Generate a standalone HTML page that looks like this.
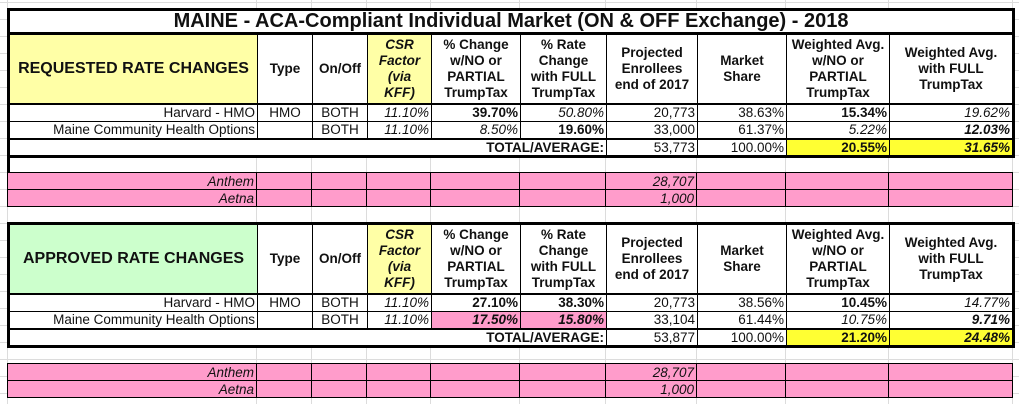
<!DOCTYPE html>
<html><head><meta charset="utf-8">
<style>
html,body{margin:0;padding:0;}
body{width:1019px;height:404px;position:relative;overflow:hidden;background:#fff;
background-image:linear-gradient(#dcdcdc 1px,transparent 1px);background-size:100% 17px;background-position:0 2px;
font-family:"Liberation Sans",Arial,sans-serif;color:#111;}
.vl{position:absolute;top:0;height:404px;width:1px;background:#dcdcdc;}
table{position:absolute;left:7px;border-collapse:collapse;table-layout:fixed;background:#fff;}
td{border:1px solid #000;padding:0 2px;font-size:13.5px;white-space:nowrap;overflow:hidden;text-align:right;line-height:15px;}
.h td{text-align:center;font-weight:bold;font-size:13.5px;line-height:16px;white-space:nowrap;padding:0;}
.t td{font-size:20px;font-weight:bold;text-align:center;border:3px solid #000;}
.b{font-weight:bold}.i{font-style:italic}.c{text-align:center}
.y{background:#ffffa6}.g{background:#ccffcc}.Y{background:#ffff33}.p{background:#ff9ccb}
.big{font-size:16px!important;}
.thickB td{border-bottom:3px solid #000;}
</style></head><body>
<div class="vl" style="left:256px"></div><div class="vl" style="left:311px"></div><div class="vl" style="left:366px"></div><div class="vl" style="left:430px"></div><div class="vl" style="left:519px"></div><div class="vl" style="left:605px"></div><div class="vl" style="left:696px"></div><div class="vl" style="left:785px"></div><div class="vl" style="left:888px"></div><div class="vl" style="left:1012px"></div><div class="vl" style="left:7px"></div>

<table style="top:8px;width:1005px;border:3px solid #000;">
<colgroup><col style="width:249px"><col style="width:55px"><col style="width:55px"><col style="width:64px"><col style="width:89px"><col style="width:86px"><col style="width:91px"><col style="width:89px"><col style="width:103px"><col style="width:124px"></colgroup>
<tr class="t" style="height:24px"><td colspan="10">MAINE - ACA-Compliant Individual Market (ON &amp; OFF Exchange) - 2018</td></tr>
<tr class="h" style="height:70px;border-bottom:2px solid #000"><td class="y big">REQUESTED RATE CHANGES</td><td>Type</td><td>On/Off</td><td class="y i">CSR<br>Factor<br>(via<br>KFF)</td><td>% Change<br>w/NO or<br>PARTIAL<br>TrumpTax</td><td>% Rate<br>Change<br>with FULL<br>TrumpTax</td><td>Projected<br>Enrollees<br>end of 2017</td><td>Market<br>Share</td><td>Weighted Avg.<br>w/NO or<br>PARTIAL<br>TrumpTax</td><td>Weighted Avg.<br>with FULL<br>TrumpTax</td></tr>
<tr style="height:18px"><td>Harvard - HMO</td><td class="c">HMO</td><td class="c">BOTH</td><td class="i">11.10%</td><td class="b">39.70%</td><td class="i">50.80%</td><td>20,773</td><td>38.63%</td><td class="b">15.34%</td><td class="i">19.62%</td></tr>
<tr style="height:17px"><td>Maine Community Health Options</td><td></td><td class="c">BOTH</td><td class="i">11.10%</td><td class="i">8.50%</td><td class="b">19.60%</td><td>33,000</td><td>61.37%</td><td class="i">5.22%</td><td class="b i">12.03%</td></tr>
<tr class="thickB" style="height:17px;border-top:2px solid #000"><td colspan="6" class="b">TOTAL/AVERAGE:</td><td>53,773</td><td>100.00%</td><td class="b Y">20.55%</td><td class="b i Y">31.65%</td></tr>
</table>
<div style="position:absolute;left:7px;top:150px;width:3px;height:56px;background:#000"></div>

<table style="top:172px;width:1005px;">
<colgroup><col style="width:249px"><col style="width:55px"><col style="width:55px"><col style="width:64px"><col style="width:89px"><col style="width:86px"><col style="width:91px"><col style="width:89px"><col style="width:103px"><col style="width:124px"></colgroup>
<tr class="p" style="height:17px"><td class="i">Anthem</td><td></td><td></td><td></td><td></td><td></td><td class="i">28,707</td><td></td><td></td><td></td></tr>
<tr class="p" style="height:17px"><td class="i">Aetna</td><td></td><td></td><td></td><td></td><td></td><td class="i">1,000</td><td></td><td></td><td></td></tr>
</table>

<table style="top:222px;width:1005px;border:3px solid #000;">
<colgroup><col style="width:249px"><col style="width:55px"><col style="width:55px"><col style="width:64px"><col style="width:89px"><col style="width:86px"><col style="width:91px"><col style="width:89px"><col style="width:103px"><col style="width:124px"></colgroup>
<tr class="h" style="height:70px;border-bottom:2px solid #000"><td class="g big">APPROVED RATE CHANGES</td><td>Type</td><td>On/Off</td><td class="y i">CSR<br>Factor<br>(via<br>KFF)</td><td>% Change<br>w/NO or<br>PARTIAL<br>TrumpTax</td><td>% Rate<br>Change<br>with FULL<br>TrumpTax</td><td>Projected<br>Enrollees<br>end of 2017</td><td>Market<br>Share</td><td>Weighted Avg.<br>w/NO or<br>PARTIAL<br>TrumpTax</td><td>Weighted Avg.<br>with FULL<br>TrumpTax</td></tr>
<tr style="height:18px"><td>Harvard - HMO</td><td class="c">HMO</td><td class="c">BOTH</td><td class="i">11.10%</td><td class="b">27.10%</td><td class="b">38.30%</td><td>20,773</td><td>38.56%</td><td class="b">10.45%</td><td class="i">14.77%</td></tr>
<tr style="height:17px"><td>Maine Community Health Options</td><td></td><td class="c">BOTH</td><td class="i">11.10%</td><td class="b i p">17.50%</td><td class="b i p">15.80%</td><td>33,104</td><td>61.44%</td><td class="i">10.75%</td><td class="b i">9.71%</td></tr>
<tr class="thickB" style="height:17px;border-top:2px solid #000"><td colspan="6" class="b">TOTAL/AVERAGE:</td><td>53,877</td><td>100.00%</td><td class="b Y">21.20%</td><td class="b i Y">24.48%</td></tr>
</table>

<table style="top:363px;width:1005px;">
<colgroup><col style="width:249px"><col style="width:55px"><col style="width:55px"><col style="width:64px"><col style="width:89px"><col style="width:86px"><col style="width:91px"><col style="width:89px"><col style="width:103px"><col style="width:124px"></colgroup>
<tr class="p" style="height:17px"><td class="i">Anthem</td><td></td><td></td><td></td><td></td><td></td><td class="i">28,707</td><td></td><td></td><td></td></tr>
<tr class="p" style="height:17px"><td class="i">Aetna</td><td></td><td></td><td></td><td></td><td></td><td class="i">1,000</td><td></td><td></td><td></td></tr>
</table>
</body></html>
